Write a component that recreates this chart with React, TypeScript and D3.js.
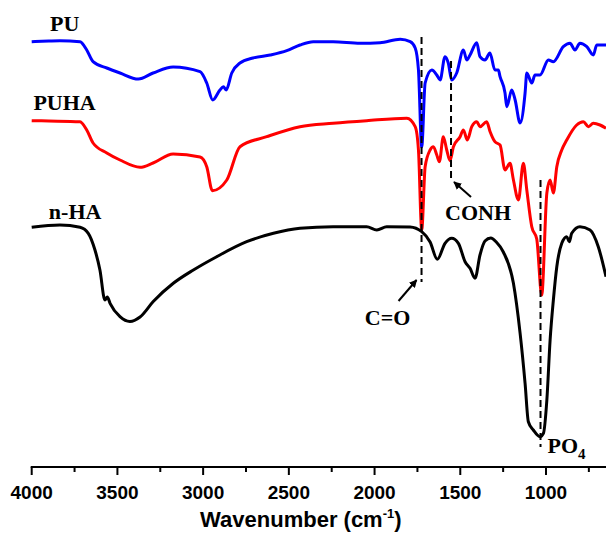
import React, { useEffect, useRef } from 'react'
import * as d3 from 'd3'

// [wavenumber (cm-1), transmittance (a.u., offset)]
const puSpectrum: [number, number][] = [
  [4000, 425.3], [3900, 426], [3835, 426.3], [3718, 425.3], [3679, 417], [3642, 405.3],
  [3562, 399], [3485, 394], [3378, 388], [3292, 394], [3175, 400], [3018, 395.3],
  [2979, 384], [2944, 367], [2902, 377], [2882, 380.3], [2866, 377], [2833, 394],
  [2785, 404], [2709, 409], [2609, 412], [2512, 416.3], [2435, 422], [2358, 425.3],
  [2242, 425.3], [2084, 423.7], [1968, 424.3], [1850, 427.7], [1792, 425.3], [1763, 419],
  [1744, 397], [1725, 320], [1705, 384], [1666, 397], [1637, 392], [1618, 387],
  [1589, 410.3], [1570, 404], [1550, 387], [1521, 394], [1482, 417], [1462, 407],
  [1443, 412], [1404, 424.3], [1385, 410.3], [1356, 407], [1327, 414], [1298, 397],
  [1278, 397], [1268, 390.3], [1239, 374], [1229, 360.3], [1200, 377], [1180, 367],
  [1151, 344], [1122, 374], [1112, 394], [1083, 384], [1064, 392], [1035, 392],
  [986, 407], [957, 405.3], [899, 420.3], [860, 423.7], [831, 417], [802, 423.7],
  [762, 420.3], [724, 412], [704, 422], [650, 422]
]

const puhaSpectrum: [number, number][] = [
  [4000, 346.3], [3900, 346], [3718, 345.3], [3679, 337], [3642, 324], [3562, 314],
  [3485, 307], [3368, 299.7], [3292, 304], [3175, 313], [3018, 310], [2979, 300.3],
  [2946, 276.3], [2862, 287], [2785, 320.3], [2629, 330.3], [2435, 340.3], [2242, 343.7],
  [2046, 346.3], [1812, 348.7], [1763, 340.3], [1744, 317], [1725, 237], [1705, 300.3],
  [1676, 317], [1657, 320.3], [1637, 312], [1622, 305.3], [1599, 330.3], [1579, 317],
  [1560, 306.3], [1540, 320.3], [1501, 330.3], [1482, 337], [1459, 327], [1433, 340.3],
  [1404, 345.3], [1385, 340.3], [1346, 345.3], [1326, 335.3], [1298, 325.3], [1268, 322],
  [1239, 297], [1210, 303.7], [1190, 287], [1161, 267], [1132, 303.7], [1112, 277],
  [1083, 240.3], [1054, 228], [1025, 172], [995, 274], [976, 287], [957, 274],
  [937, 300.3], [908, 317], [879, 327], [821, 342], [782, 345.3], [753, 340.3],
  [724, 343.7], [685, 342], [650, 338.7]
]

const nhaSpectrum: [number, number][] = [
  [4000, 239.7], [3835, 242], [3718, 239.7], [3670, 233.7], [3631, 217], [3602, 197],
  [3573, 167], [3559, 170], [3543, 163.7], [3485, 150.3], [3427, 145.5], [3368, 150],
  [3291, 165.5], [3174, 183.7], [3057, 197], [2921, 210.3], [2746, 225.3], [2590, 233.7],
  [2435, 238.7], [2242, 240.3], [2046, 240.3], [1987, 237], [1929, 240.3], [1793, 240],
  [1725, 235.3], [1676, 225], [1634, 207.7], [1589, 223.7], [1550, 228.7], [1511, 223.7],
  [1472, 205.3], [1443, 198.7], [1414, 188.7], [1385, 212], [1356, 226], [1322, 229],
  [1290, 225], [1249, 215], [1190, 183.7], [1151, 133.7], [1122, 83.7], [1103, 45.3],
  [1074, 37], [1035, 30.3], [1015, 33.7], [995, 67], [976, 127], [957, 167], [937, 200.3],
  [908, 223.7], [879, 230.3], [864, 225.3], [850, 233.7], [802, 240.3], [743, 237],
  [695, 220.3], [650, 190.3]
]

const seriesNames = ['PU', 'PUHA', 'n-HA']
const seriesColors = ['#0000ff', '#ff0000', '#000000']
const seriesLabelPos: [number, number][] = [[3893, 436], [3990, 357], [3900, 248]]

// band markers: wavenumber, dashed line top / bottom (a.u.)
const bandWavenumbers = [1726, 1554, 1032]
const bandTops = [430, 406, 287]
const bandBottoms = [185, 287, 20]

const majorTicks = [4000, 3500, 3000, 2500, 2000, 1500, 1000]
const minorTicks = [3750, 3250, 2750, 2250, 1750, 1250, 750]

const width = 606, height = 535
const margin = { top: 27, right: 0, bottom: 68, left: 31.7 }

export default function App() {
  const ref = useRef<SVGSVGElement>(null)

  useEffect(() => {
    const svg = d3.select(ref.current)
    svg.selectAll('*').remove()

    const x = d3.scaleLinear([4000, 650], [margin.left, width - margin.right])
    const y = d3.scaleLinear([0, 440], [height - margin.bottom, margin.top])

    const defs = svg.append('defs')
    defs.append('marker')
      .attr('id', 'arrow')
      .attr('viewBox', '0 0 10 10')
      .attr('refX', 9).attr('refY', 5)
      .attr('markerWidth', 4).attr('markerHeight', 4)
      .attr('orient', 'auto')
      .append('path').attr('d', 'M0,0L10,5L0,10z').attr('fill', '#000')

    const line = d3.line<[number, number]>()
      .x(d => x(d[0]))
      .y(d => y(d[1]))
      .curve(d3.curveMonotoneX)

    const spectra = [puSpectrum, puhaSpectrum, nhaSpectrum]
    spectra.forEach((s, i) => {
      svg.append('path')
        .datum(s)
        .attr('fill', 'none')
        .attr('stroke', seriesColors[i])
        .attr('stroke-width', 3)
        .attr('stroke-linejoin', 'round')
        .attr('d', line)
    })

    // series labels
    svg.append('g')
      .selectAll('text')
      .data(seriesNames)
      .join('text')
      .attr('x', (d, i) => x(seriesLabelPos[i][0]))
      .attr('y', (d, i) => y(seriesLabelPos[i][1]))
      .attr('font-family', '"Liberation Serif", "Times New Roman", serif')
      .attr('font-weight', 'bold')
      .attr('font-size', 22)
      .text(d => d)

    // dashed band lines
    svg.append('g')
      .selectAll('line')
      .data(bandWavenumbers)
      .join('line')
      .attr('x1', d => x(d)).attr('x2', d => x(d))
      .attr('y1', (d, i) => y(bandTops[i]))
      .attr('y2', (d, i) => y(bandBottoms[i]))
      .attr('stroke', '#000')
      .attr('stroke-width', 2)
      .attr('stroke-dasharray', '7,4')

    const label = (g: d3.Selection<SVGGElement, unknown, null, undefined>) =>
      g.attr('font-family', '"Liberation Serif", "Times New Roman", serif')
        .attr('font-weight', 'bold')
        .attr('font-size', 22)
        .attr('fill', '#000')

    // C=O
    const coX = x(bandWavenumbers[0]), coY = y(bandBottoms[0])
    svg.append('line')
      .attr('x1', coX - 23).attr('y1', coY + 19)
      .attr('x2', coX - 5).attr('y2', coY - 2)
      .attr('stroke', '#000').attr('stroke-width', 2)
      .attr('marker-end', 'url(#arrow)')
    svg.append('g').call(label)
      .append('text')
      .attr('x', coX - 34).attr('y', coY + 43)
      .attr('text-anchor', 'middle')
      .text('C=O')

    // CONH
    const cnX = x(bandWavenumbers[1]), cnY = y(bandBottoms[1])
    svg.append('line')
      .attr('x1', cnX + 20).attr('y1', cnY + 17)
      .attr('x2', cnX + 3).attr('y2', cnY + 2)
      .attr('stroke', '#000').attr('stroke-width', 2)
      .attr('marker-end', 'url(#arrow)')
    svg.append('g').call(label)
      .append('text')
      .attr('x', cnX + 27).attr('y', cnY + 40)
      .attr('text-anchor', 'middle')
      .text('CONH')

    // PO4
    const poX = x(bandWavenumbers[2]), poY = y(bandBottoms[2])
    const po = svg.append('g').call(label)
      .append('text')
      .attr('x', poX + 7).attr('y', poY + 6)
    po.append('tspan').text('PO')
    po.append('tspan').attr('font-size', 15).attr('dy', 6).text('4')

    // x axis
    const axisY = height - margin.bottom
    const ax = svg.append('g')
    ax.append('line')
      .attr('x1', margin.left - 1).attr('x2', width)
      .attr('y1', axisY).attr('y2', axisY)
      .attr('stroke', '#000').attr('stroke-width', 2)
    ax.selectAll('line.major')
      .data(majorTicks)
      .join('line')
      .attr('class', 'major')
      .attr('x1', d => x(d)).attr('x2', d => x(d))
      .attr('y1', axisY).attr('y2', axisY + 8)
      .attr('stroke', '#000').attr('stroke-width', 2)
    ax.selectAll('line.minor')
      .data(minorTicks)
      .join('line')
      .attr('class', 'minor')
      .attr('x1', d => x(d)).attr('x2', d => x(d))
      .attr('y1', axisY).attr('y2', axisY + 5)
      .attr('stroke', '#000').attr('stroke-width', 2)
    ax.selectAll('text')
      .data(majorTicks)
      .join('text')
      .attr('x', d => x(d))
      .attr('y', axisY + 32)
      .attr('text-anchor', 'middle')
      .attr('font-family', '"Liberation Sans", Arial, sans-serif')
      .attr('font-weight', 'bold')
      .attr('font-size', 19)
      .text(d => d)

    const title = svg.append('text')
      .attr('x', (margin.left + width) / 2 - 18)
      .attr('y', axisY + 60)
      .attr('text-anchor', 'middle')
      .attr('font-family', '"Liberation Sans", Arial, sans-serif')
      .attr('font-weight', 'bold')
      .attr('font-size', 22)
    title.append('tspan').text('Wavenumber (cm')
    title.append('tspan').attr('font-size', 13).attr('dy', -9).text('-1')
    title.append('tspan').attr('dy', 9).text(')')
  }, [])

  return (
    <svg ref={ref} width={width} height={height}
      style={{ position: 'absolute', left: 0, top: 0, background: '#fff' }} />
  )
}
